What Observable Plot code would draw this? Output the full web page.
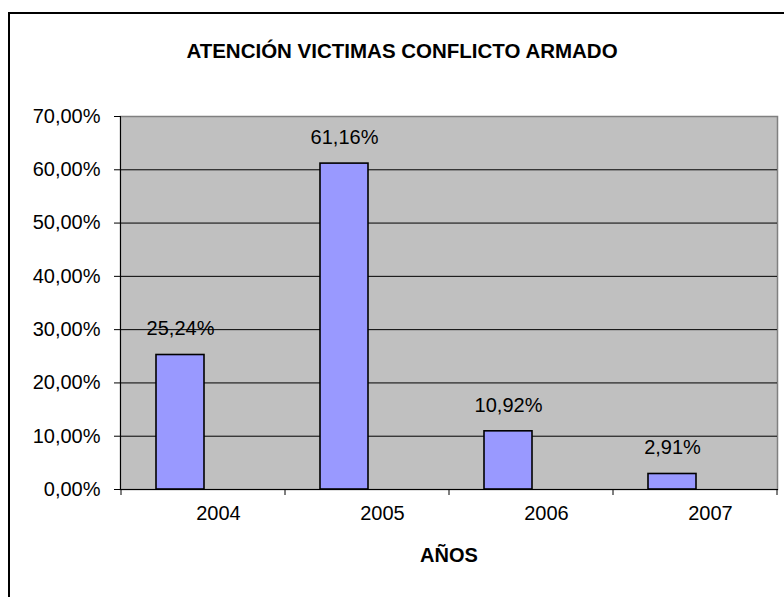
<!DOCTYPE html>
<html>
<head>
<meta charset="utf-8">
<script src="https://cdn.jsdelivr.net/npm/d3@7"></script>
<script src="https://cdn.jsdelivr.net/npm/@observablehq/plot@0.6"></script>
<style>
  html, body { margin: 0; padding: 0; background: #fff; overflow: hidden; }
  #wrap { position: relative; width: 784px; height: 597px; }
  #box { position: absolute; left: 8px; top: 12px; width: 800px; height: 600px;
         border-left: 2px solid #000; border-top: 2px solid #000; box-sizing: border-box; }
  #chart { position: absolute; left: 0; top: 0; }
</style>
</head>
<body>
<div id="wrap"><div id="box"></div><div id="chart"></div></div>
<script>
const title = "ATENCIÓN VICTIMAS CONFLICTO ARMADO";
const xTitle = "AÑOS";
const years = ["2004", "2005", "2006", "2007"];
const values = [0.2524, 0.6116, 0.1092, 0.0291];
const yTicks = [0, 0.1, 0.2, 0.3, 0.4, 0.5, 0.6, 0.7];

const fmt = d => (d * 100).toFixed(2).replace(".", ",") + "%";
const data = years.map((y, i) => ({year: y, value: values[i]}));

const boundaryTicks = (index, scales, values, dims) => {
  const g = d3.create("svg:g").attr("stroke", "#000").attr("stroke-width", 1);
  const xs = years.map(d => scales.x(d));
  xs.push(dims.width - dims.marginRight);
  const yb = dims.height - dims.marginBottom;
  for (const x of xs) {
    g.append("line").attr("x1", x).attr("x2", x).attr("y1", yb).attr("y2", yb + 6);
  }
  return g.node();
};

const chart = Plot.plot({
  width: 784,
  height: 597,
  marginLeft: 120,
  marginRight: 7,
  marginTop: 116,
  marginBottom: 108,
  style: {fontFamily: "'Liberation Sans', Arial, sans-serif", fontSize: "20px", color: "#000", background: "transparent"},
  x: {domain: years, padding: 0, axis: null},
  y: {domain: [0, 0.7], axis: null},
  marks: [
    Plot.frame({fill: "#C0C0C0", stroke: "#808080", strokeWidth: 1.5}),
    Plot.gridY(yTicks.slice(1, -1), {stroke: "#000", strokeOpacity: 1, strokeWidth: 1}),
    Plot.barY(data, {x: "year", y: "value", fill: "#9999FF", stroke: "#000", strokeWidth: 1.6, insetLeft: 35, insetRight: 81}),
    Plot.frame({anchor: "left", stroke: "#000", strokeWidth: 1}),
    Plot.frame({anchor: "bottom", stroke: "#000", strokeWidth: 1}),
    Plot.axisY(yTicks, {label: null, tickFormat: fmt, tickSize: 6, tickPadding: 14, stroke: "#000", fontSize: 20}),
    boundaryTicks,
    Plot.text(data, {x: "year", y: "value", text: d => fmt(d.value), dx: -23, dy: -26, fontSize: 20, fill: "#000"}),
    Plot.text(years, {x: d => d, frameAnchor: "bottom", dy: 30, dx: 15, fontSize: 20, fill: "#000"}),
    Plot.text([xTitle], {frameAnchor: "bottom", dy: 72, fontSize: 20, fontWeight: "bold", fill: "#000"}),
    Plot.text([title], {frameAnchor: "top", dy: -73, dx: -47, fontSize: 20.5, fontWeight: "bold", fill: "#000"})
  ]
});
document.getElementById("chart").appendChild(chart);
</script>
</body>
</html>
